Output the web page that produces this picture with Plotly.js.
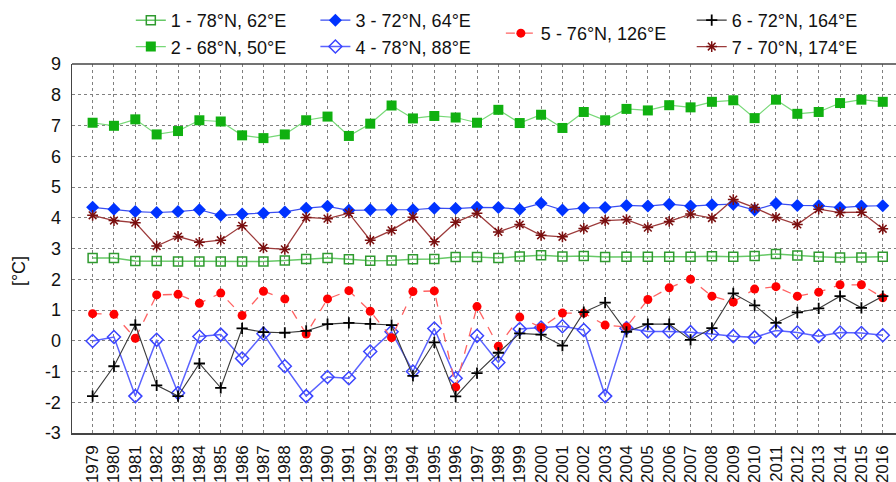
<!DOCTYPE html>
<html>
<head>
<meta charset="utf-8">
<script src="https://cdn.plot.ly/plotly-3.0.1.min.js"></script>
<style>html,body{margin:0;padding:0;background:#fff;}#chart{width:896px;height:482px;}</style>
</head>
<body>
<div id="chart"></div>
<script>
const years = [1979,1980,1981,1982,1983,1984,1985,1986,1987,1988,1989,1990,1991,1992,1993,1994,1995,1996,1997,1998,1999,2000,2001,2002,2003,2004,2005,2006,2007,2008,2009,2010,2011,2012,2013,2014,2015,2016];
const yearLabels = years.map(String);
const seriesNames = ["1 - 78°N, 62°E","2 - 68°N, 50°E","3 - 72°N, 64°E","4 - 78°N, 88°E","5 - 76°N, 126°E","6 - 72°N, 164°E","7 - 70°N, 174°E"];
const s1 = [2.69,2.69,2.59,2.59,2.58,2.58,2.58,2.58,2.58,2.61,2.66,2.69,2.65,2.60,2.61,2.65,2.66,2.72,2.72,2.69,2.74,2.78,2.74,2.76,2.72,2.73,2.73,2.73,2.73,2.75,2.73,2.76,2.82,2.77,2.73,2.71,2.71,2.73];
const s2 = [7.09,6.99,7.20,6.71,6.82,7.17,7.13,6.68,6.59,6.71,7.17,7.29,6.66,7.06,7.65,7.23,7.31,7.26,7.09,7.51,7.08,7.35,6.92,7.44,7.17,7.54,7.49,7.66,7.59,7.77,7.82,7.24,7.84,7.38,7.44,7.73,7.84,7.77];
const s3 = [4.34,4.28,4.20,4.17,4.20,4.26,4.08,4.12,4.15,4.19,4.31,4.37,4.24,4.26,4.26,4.26,4.31,4.30,4.34,4.33,4.28,4.47,4.25,4.32,4.33,4.40,4.38,4.44,4.38,4.42,4.44,4.25,4.46,4.40,4.39,4.33,4.38,4.39];
const s4 = [-0.01,0.12,-1.80,0.03,-1.70,0.14,0.20,-0.58,0.23,-0.83,-1.80,-1.18,-1.22,-0.35,0.29,-1.00,0.40,-1.22,0.16,-0.71,0.38,0.43,0.47,0.35,-1.80,0.41,0.30,0.30,0.28,0.22,0.15,0.11,0.33,0.27,0.15,0.27,0.25,0.18];
const s5 = [0.88,0.86,0.08,1.49,1.51,1.22,1.55,0.82,1.61,1.36,0.22,1.36,1.63,0.96,0.10,1.60,1.62,-1.51,1.11,-0.18,0.77,0.43,0.90,0.90,0.51,0.45,1.34,1.72,2.00,1.45,1.26,1.68,1.76,1.45,1.58,1.82,1.82,1.40];
const s6 = [-1.80,-0.83,0.52,-1.45,-1.80,-0.74,-1.53,0.40,0.28,0.26,0.32,0.54,0.58,0.55,0.51,-1.14,-0.05,-1.81,-1.05,-0.39,0.24,0.20,-0.16,0.93,1.24,0.29,0.54,0.54,0.03,0.41,1.54,1.15,0.58,0.92,1.05,1.45,1.07,1.45];
const s7 = [4.08,3.91,3.84,3.08,3.39,3.20,3.27,3.74,3.02,2.97,4.01,3.97,4.15,3.27,3.59,4.02,3.22,3.85,4.15,3.54,3.78,3.43,3.38,3.65,3.91,3.94,3.68,3.88,4.12,3.99,4.59,4.33,4.01,3.78,4.28,4.17,4.18,3.64];
const yTicks = [-3,-2,-1,0,1,2,3,4,5,6,7,8,9];
const yTickLabels = ["-3","-2","-1","0","1","2","3","4","5","6","7","8","9"];

const styles = [
  {line:{color:'#66c866',width:1.5}, marker:{symbol:'square-open',size:9,color:'#2f9a2f',line:{width:1.5}}, legend:'legend'},
  {line:{color:'#77d877',width:1.2}, marker:{symbol:'square',size:10,color:'#10b010'}, legend:'legend'},
  {line:{color:'#3a4ef0',width:1.2}, marker:{symbol:'diamond',size:10,color:'#0033ff'}, legend:'legend2'},
  {line:{color:'#5a62ff',width:1.5}, marker:{symbol:'diamond-open',size:10,color:'#3a44ff',line:{width:1.5}}, legend:'legend2'},
  {line:{color:'#ff6262',width:1.3,dash:'dash'}, marker:{symbol:'circle',size:9,color:'#ff0000'}, legend:'legend3'},
  {line:{color:'#3a3a3a',width:1.1}, marker:{symbol:'cross-thin-open',size:8,color:'#000',line:{width:1.8}}, legend:'legend4'},
  {line:{color:'#9c3a3a',width:1.3}, marker:{symbol:'asterisk-open',size:9,color:'#7a0f0f',line:{width:1.5}}, legend:'legend4'}
];
const allSeries = [s1,s2,s3,s4,s5,s6,s7];
const traces = allSeries.map((s,i)=>({
  x: years, y: s, name: seriesNames[i], type:'scatter', mode:'lines+markers',
  line: styles[i].line, marker: styles[i].marker, legend: styles[i].legend
}));

const legFont = {family:'"Liberation Sans", Arial, sans-serif', size:18, color:'#111'};
function leg(x,y){return {x:x,y:y,xref:'container',yref:'container',xanchor:'left',yanchor:'top',font:legFont,bgcolor:'rgba(0,0,0,0)',itemwidth:30,tracegroupgap:0};}

const layout = {
  width:896, height:482,
  margin:{l:72,r:0,t:64,b:49,autoexpand:false},
  paper_bgcolor:'#fff', plot_bgcolor:'#fff',
  font:{family:'"Liberation Sans", Arial, sans-serif', color:'#111'},
  xaxis:{
    range:[1978.035,2016.62], automargin:false,
    tickmode:'array', tickvals:years, ticktext:yearLabels, tickangle:-90,
    tickfont:{size:17,color:'#111'},
    showgrid:true, gridcolor:'#808080', griddash:'dot', gridwidth:1,
    showline:true, linecolor:'#444', linewidth:1.5, mirror:false,
    zeroline:false, ticks:'', ticklabelstandoff:4
  },
  yaxis:{
    range:[-3,9], automargin:false, tickmode:'array', tickvals:yTicks, ticktext:yTickLabels,
    tickfont:{size:18,color:'#111'},
    showgrid:true, gridcolor:'#808080', griddash:'dot', gridwidth:1,
    showline:true, linecolor:'#444', linewidth:1.5, mirror:false,
    zeroline:false, ticks:'', ticklabelstandoff:6
  },
  shapes:[{type:'line', xref:'paper', yref:'paper', x0:0, x1:1, y0:1, y1:1, line:{color:'#444', width:1.5}}],
  showlegend:true,
  legend: leg(0.146,0.996),
  legend2: leg(0.352,0.996),
  legend3: leg(0.559,0.969),
  legend4: leg(0.772,0.996),
  annotations:[{
    text:'[°C]', xref:'paper', yref:'paper', x:-0.065, y:0.44, xanchor:'center', yanchor:'middle',
    textangle:-90, showarrow:false, font:{size:18,color:'#111'}
  }]
};
Plotly.newPlot('chart', traces, layout, {displayModeBar:false, staticPlot:true});
</script>
</body>
</html>
